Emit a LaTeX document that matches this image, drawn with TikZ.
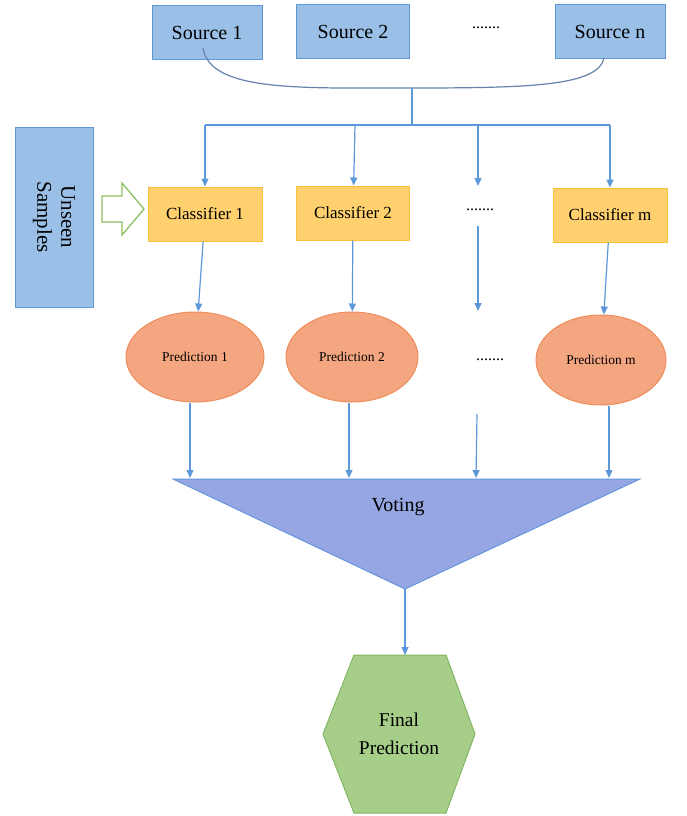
\documentclass[tikz,border=0pt]{standalone}
\usepackage{fontspec}
\setmainfont{Liberation Serif}
\newfontfamily\tnr{Liberation Serif}
\usetikzlibrary{arrows.meta,shapes.geometric,calc}
\definecolor{srcfill}{RGB}{155,192,232}
\definecolor{srcline}{RGB}{95,150,212}
\definecolor{clsfill}{RGB}{255,208,110}
\definecolor{clsline}{RGB}{250,192,60}
\definecolor{prdfill}{RGB}{244,166,128}
\definecolor{prdline}{RGB}{238,140,90}
\definecolor{votfill}{RGB}{150,166,226}
\definecolor{votline}{RGB}{100,150,222}
\definecolor{finfill}{RGB}{166,206,136}
\definecolor{finline}{RGB}{130,182,100}
\definecolor{arrcol}{RGB}{92,152,218}
\definecolor{curvecol}{RGB}{100,130,170}
\definecolor{hollow}{RGB}{140,192,100}
\tikzset{
  srcbox/.style={draw=srcline,fill=srcfill,line width=1pt,minimum width=110pt,minimum height=54pt,inner sep=0pt,font=\tnr\fontsize{20}{22}\selectfont},
  clsbox/.style={draw=clsline,fill=clsfill,line width=1pt,minimum width=114pt,minimum height=54pt,inner sep=0pt,font=\tnr\fontsize{17}{19}\selectfont},
  prdell/.style={ellipse,draw=prdline,fill=prdfill,line width=1pt,minimum width=138pt,minimum height=90pt,inner sep=0pt,font=\tnr\fontsize{13.5}{15}\selectfont},
  dotstxt/.style={inner sep=0pt,font=\tnr\fontsize{16}{18}\selectfont},
  arr/.style={draw=arrcol,line width=1.2pt,-{Triangle[length=8pt,width=7pt]}},
  bus/.style={draw=arrcol,line width=1.2pt},
}
\begin{document}
\begin{tikzpicture}[x=1pt,y=-1pt]
\useasboundingbox (0,0) rectangle (686,816);
% sources
\node[srcbox,minimum width=110pt] (s1) at (207,33) {Source 1};
\node[srcbox,minimum width=113pt] (s2) at (353,32) {Source 2};
\node[dotstxt] (sd) at (486,28) {.......};
\node[srcbox,minimum width=110pt] (sn) at (610,32) {Source n};
% curve joining sources
\coordinate (cs) at (203,48);
\coordinate (ce) at (604,58);
\coordinate (b0) at (412,88);
\coordinate (b1) at (412,125);
\coordinate (bl) at (205,125);
\coordinate (br) at (610,125);
\draw[curvecol,line width=1.2pt] (cs) .. controls (210,92) and (300,88) .. (b0) .. controls (530,88) and (598,86) .. (ce);
\draw[bus] (b0) -- (b1);
\draw[bus] (bl) -- (br);
% unseen samples
\node[draw=srcline,fill=srcfill,line width=1pt,minimum width=78pt,minimum height=180pt,inner sep=0pt] (us) at (54,217) {};
\node[rotate=-90,align=center,font=\tnr\fontsize{21}{24}\selectfont] (ut) at (us.center) {Unseen\\Samples};
\draw[hollow,fill=white,line width=1.3pt] (102,196) -- (122,196) -- (122,183) -- (144,209) -- (122,235) -- (122,222) -- (102,222) -- cycle;
% classifiers
\node[clsbox] (c1) at (205,214) {Classifier 1};
\node[clsbox,minimum width=113pt] (c2) at (353,213) {Classifier 2};
\node[dotstxt] (cd) at (480,210) {.......};
\node[clsbox] (cm) at (610,215) {Classifier m};
\coordinate (t1) at (205,125);
\coordinate (t2) at (355,125);
\coordinate (t3) at (478,125);
\coordinate (t4) at (610,125);
\coordinate (d3e) at (478,186);
\draw[arr] (t1) -- (c1);
\draw[arr] (t2) -- (c2);
\draw[arr] (t3) -- (d3e);
\draw[arr] (t4) -- (cm);
% predictions
\node[prdell] (e1) at (195,357) {Prediction 1};
\node[prdell,minimum width=132pt] (e2) at (352,357) {Prediction 2};
\node[dotstxt] (ed) at (490,360) {.......};
\node[prdell,minimum width=130pt] (em) at (601,360) {Prediction m};
\coordinate (m3s) at (478,226);
\coordinate (m3e) at (478,311);
\draw[arr] (c1) -- (e1);
\draw[arr] (c2) -- (e2);
\draw[arr] (m3s) -- (m3e);
\draw[arr] (cm) -- (em);
% voting triangle
\coordinate (tl) at (173,479);
\coordinate (tr) at (640,479);
\coordinate (ap) at (405,589);
\draw[votline,fill=votfill,line width=1pt] (tl) -- (tr) -- (ap) -- cycle;
\node[font=\tnr\fontsize{20}{22}\selectfont] (vt) at (398,507) {Voting};
\coordinate (v1) at (190,478);
\coordinate (v2) at (349,478);
\coordinate (v3s) at (477,414);
\coordinate (v3) at (476,478);
\coordinate (v4) at (609,478);
\draw[arr] (e1.south -| v1) -- (v1);
\draw[arr] (e2.south -| v2) -- (v2);
\draw[arr] (v3s) -- (v3);
\draw[arr] (em.south -| v4) -- (v4);
% final prediction hexagon
\coordinate (h1) at (354,655);
\coordinate (h2) at (446,655);
\coordinate (h3) at (475,734);
\coordinate (h4) at (446,813);
\coordinate (h5) at (354,813);
\coordinate (h6) at (323,734);
\coordinate (ht) at (405,655);
\draw[finline,fill=finfill,line width=1pt] (h1) -- (h2) -- (h3) -- (h4) -- (h5) -- (h6) -- cycle;
\node[align=center,font=\tnr\fontsize{19.5}{28}\selectfont] (fp) at (399,734) {Final\\Prediction};
\draw[arr] (ap) -- (ht);
\end{tikzpicture}
\end{document}
